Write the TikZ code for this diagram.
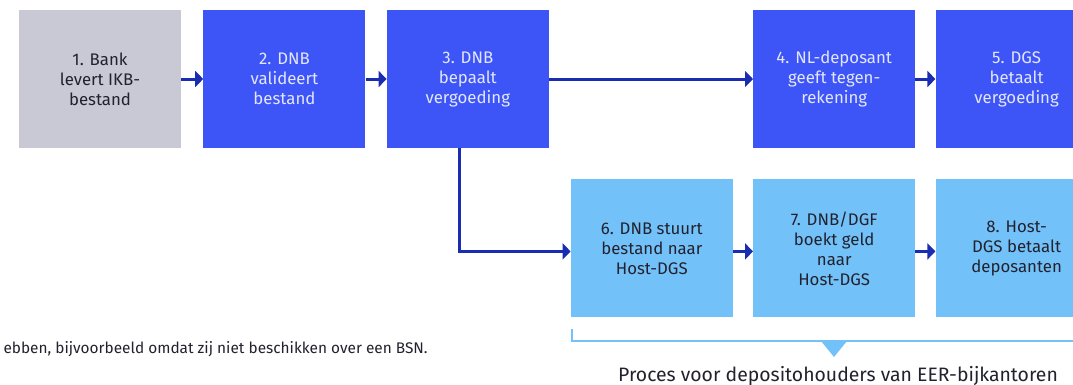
\documentclass[tikz,border=0pt]{standalone}
\usepackage{fontspec}
\setmainfont{Fira Sans}
\usetikzlibrary{arrows.meta,positioning}
\definecolor{ikbgrey}{HTML}{C8C9D5}
\definecolor{dnbblue}{HTML}{3D55F6}
\definecolor{dnbtext}{HTML}{E2E6FF}
\definecolor{hostblue}{HTML}{73C1F9}
\definecolor{darktext}{HTML}{22222E}
\definecolor{arrowblue}{HTML}{1A2CAF}
\tikzset{
        block/.style = {rectangle, fill=dnbblue, text=dnbtext,
            minimum width=162pt,
            minimum height=138pt,
            inner sep=0pt, align=center,
            font=\fontsize{16.8}{20}\selectfont},
        bankblock/.style = {block, fill=ikbgrey, text=darktext},
        hostblock/.style = {block, fill=hostblue, text=darktext},
        arrow/.style = {draw=arrowblue, line width=3pt,
            -{Triangle[length=8pt,width=16pt]}},
        brace/.style = {draw=hostblue, line width=1.5pt},
    }

\begin{document}
\begin{tikzpicture}[x=1pt,y=-1pt]
        \useasboundingbox (0,0) rectangle (1073,384);

        % bovenste rij
        \node[bankblock] (bank) at (100,79) {1. Bank\\levert IKB-\\bestand};
        \node[block, right=22pt of bank] (valideert) {2. DNB\\valideert\\bestand};
        \node[block, right=21pt of valideert] (bepaalt) {3. DNB\\bepaalt\\vergoeding};
        \node[block, right=204pt of bepaalt] (tegenrek) {4. NL-deposant\\geeft tegen-\\rekening};
        \node[block, right=20pt of tegenrek] (dgsbetaalt) {5. DGS\\betaalt\\vergoeding};

        % onderste rij
        \node[hostblock, below=31pt of tegenrek] (boekt) {7. DNB/DGF\\boekt geld\\naar\\Host-DGS};
        \node[hostblock, left=20pt of boekt] (stuurt) {6. DNB stuurt\\bestand naar\\Host-DGS};
        \node[hostblock, right=20pt of boekt] (hostdgs) {8. Host-\\DGS betaalt\\deposanten};

        \draw[arrow] (bank) -- (valideert);
        \draw[arrow] (valideert) -- (bepaalt);
        \draw[arrow] (bepaalt) -- (tegenrek);
        \draw[arrow] (tegenrek) -- (dgsbetaalt);
        \draw[arrow] ([xshift=-8pt]bepaalt.south) |- ([yshift=-3pt]stuurt.west);
        \draw[arrow] ([yshift=-3pt]stuurt.east) -- ([yshift=-3pt]boekt.west);
        \draw[arrow] ([yshift=-3pt]boekt.east) -- ([yshift=-3pt]hostdgs.west);

        % accolade EER
        \draw[brace] (572,329) -- (572,341) -- (1090,341);
        \fill[hostblue] (821,341) -- (847,341) -- (834,357) -- cycle;
        \node[anchor=base, text=darktext, font=\fontsize{19.4}{23}\selectfont] (proces) at (838,381)
            {Proces voor depositohouders van EER-bijkantoren};

        \node[anchor=base west, text=darktext, font=\fontsize{15.4}{18}\selectfont] (voetnoot) at (0,353)
            {ebben, bijvoorbeeld omdat zij niet beschikken over een BSN.};
\end{tikzpicture}
\end{document}
